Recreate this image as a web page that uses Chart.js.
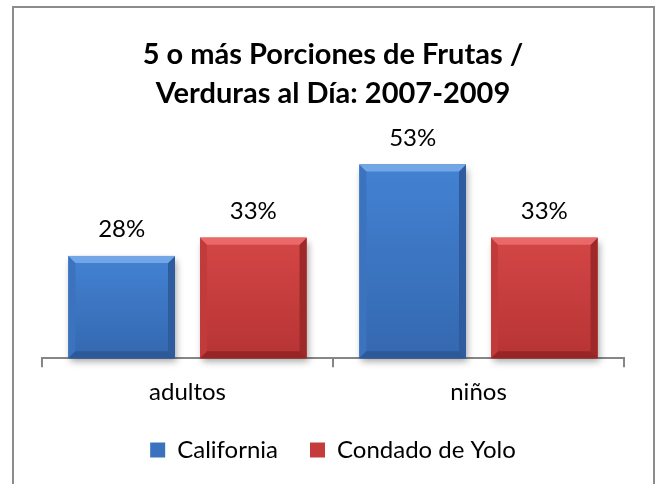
<!DOCTYPE html>
<html>
<head>
<meta charset="utf-8">
<script src="https://cdn.jsdelivr.net/npm/chart.js@4.4.0/dist/chart.umd.min.js"></script>
<style>
    html, body { margin: 0; padding: 0; background: #fff; }
    #frame {
        position: absolute; left: 12px; top: 6px;
        width: 643px; height: 500px;
        border: 2px solid #8c8c8c; box-sizing: border-box;
    }
    #chart { position: absolute; left: 0; top: 0; }
</style>
</head>
<body>
<div id="frame"></div>
<canvas id="chart" width="658" height="484"></canvas>
<script>
// Chart data
const categories = ['adultos', 'niños'];
const seriesNames = ['California', 'Condado de Yolo'];
const california = [28, 53];
const condadoYolo = [33, 33];
const titleLines = ['5 o más Porciones de Frutas /', 'Verduras al Día: 2007-2009'];

// colour sets for the bevelled bars
const looks = [
    { base: '#3a72bf', bevelTop: '#72a6e6', top: '#4382d2', bottom: '#3468b0', left: '#3b73bf', right: '#2e5c9f', foot: '#2c5998' },
    { base: '#c43c3c', bevelTop: '#ea6868', top: '#d44646', bottom: '#b73434', left: '#c23b3b', right: '#9e2929', foot: '#972525' }
];

function poly(ctx, pts, color) {
    ctx.beginPath();
    ctx.moveTo(pts[0][0], pts[0][1]);
    for (let i = 1; i < pts.length; i++) ctx.lineTo(pts[i][0], pts[i][1]);
    ctx.closePath();
    ctx.fillStyle = color;
    ctx.fill();
}

// drop shadow under the bars, then bevel on top of them
const barLook = {
    id: 'barLook',
    beforeDatasetsDraw(chart) {
        const ctx = chart.ctx;
        ctx.save();
        ctx.shadowColor = 'rgba(0,0,0,0.35)';
        ctx.shadowBlur = 7;
        ctx.shadowOffsetX = 2;
        ctx.shadowOffsetY = 4;
    },
    afterDatasetsDraw(chart) {
        const ctx = chart.ctx;
        ctx.restore();
        chart.data.datasets.forEach((ds, di) => {
            const look = looks[di];
            chart.getDatasetMeta(di).data.forEach(bar => {
                const l = bar.x - bar.width / 2, r = bar.x + bar.width / 2;
                const t = bar.y, b = bar.base;
                const s = 7;
                const g = ctx.createLinearGradient(0, t, 0, b);
                g.addColorStop(0, look.top);
                g.addColorStop(1, look.bottom);
                ctx.fillStyle = g;
                ctx.fillRect(l, t, r - l, b - t);
                poly(ctx, [[l, t], [l + s, t + s], [l + s, b - s], [l, b]], look.left);
                poly(ctx, [[r, t], [r - s, t + s], [r - s, b - s], [r, b]], look.right);
                poly(ctx, [[l, b], [l + s, b - s], [r - s, b - s], [r, b]], look.foot);
                poly(ctx, [[l, t], [r, t], [r - s, t + s], [l + s, t + s]], look.bevelTop);
            });
        });
    },
    afterDraw(chart) {
        const ctx = chart.ctx;
        ctx.save();
        ctx.font = '24px Lato';
        ctx.fillStyle = '#000';
        ctx.textAlign = 'center';
        ctx.textBaseline = 'alphabetic';
        chart.data.datasets.forEach((ds, di) => {
            chart.getDatasetMeta(di).data.forEach((bar, i) => {
                ctx.fillText(ds.data[i] + '%', bar.x, bar.y - 19);
            });
        });
        ctx.restore();
    }
};

Chart.defaults.font.family = 'Lato';
Chart.defaults.color = '#000';

const defaultLabels = Chart.defaults.plugins.legend.labels.generateLabels;

new Chart(document.getElementById('chart').getContext('2d'), {
    type: 'bar',
    data: {
        labels: categories,
        datasets: [{
            label: seriesNames[0],
            data: california,
            backgroundColor: looks[0].base,
            borderWidth: 0,
            clip: false
        }, {
            label: seriesNames[1],
            data: condadoYolo,
            backgroundColor: looks[1].base,
            borderWidth: 0,
            clip: false
        }]
    },
    options: {
        responsive: false,
        animation: false,
        devicePixelRatio: 1,
        categoryPercentage: 0.904,
        barPercentage: 0.81,
        layout: { padding: { left: 42, right: 34, top: 0, bottom: 12 } },
        plugins: {
            title: {
                display: true,
                text: titleLines,
                color: '#000',
                font: { size: 29, weight: 'bold', lineHeight: 1.345 },
                padding: { top: 35, bottom: 26 }
            },
            legend: {
                position: 'bottom',
                labels: {
                    boxWidth: 15,
                    boxHeight: 15,
                    padding: 20,
                    color: '#000',
                    font: { size: 24 },
                    // a little extra room after each entry, as in the original legend
                    generateLabels(chart) {
                        return defaultLabels(chart).map((item, i, all) => {
                            if (i < all.length - 1) item.text = item.text + '\u2002';
                            return item;
                        });
                    }
                }
            },
            tooltip: { enabled: false }
        },
        scales: {
            y: { display: false, min: 0, max: 60 },
            x: {
                grid: {
                    display: true,
                    drawOnChartArea: false,
                    drawTicks: true,
                    tickLength: 9,
                    color: '#868686',
                    lineWidth: 2
                },
                border: { display: true, color: '#868686', width: 2 },
                ticks: {
                    color: '#000',
                    padding: 11,
                    font: { size: 24 }
                }
            }
        }
    },
    plugins: [barLook]
});
</script>
</body>
</html>
